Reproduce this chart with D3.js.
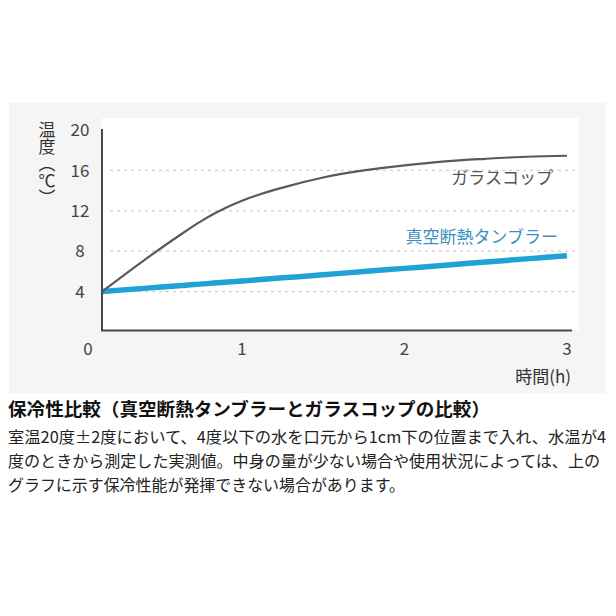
<!DOCTYPE html>
<html><head><meta charset="utf-8">
<script src="https://cdn.jsdelivr.net/npm/d3@7"></script>
<style>
html,body{margin:0;padding:0;background:#fff;}
svg{display:block;font-family:"Noto Sans CJK JP","Noto Sans",sans-serif;}
</style></head>
<body>
<script>
// ---- data ----
const hours    = [0, 0.3, 0.6, 0.7, 0.8, 0.9, 1, 1.25, 1.5, 1.75, 2, 2.25, 2.5, 2.75, 3];
const glassCup = [4, 7.1, 10.0, 10.9, 11.7, 12.4, 13.0, 14.3, 15.3, 16.0, 16.5, 16.9, 17.15, 17.35, 17.45];
const tumbler  = [4, 4.32, 4.63, 4.74, 4.84, 4.95, 5.05, 5.36, 5.67, 5.99, 6.3, 6.61, 6.93, 7.24, 7.55];
const yTicks = [4, 8, 12, 16, 20];
const xTicks = [1, 2, 3];
const seriesNames = ["ガラスコップ", "真空断熱タンブラー"];
const yTitle = "温度（℃）";
const xTitle = "時間(h)";
const caption = "保冷性比較（真空断熱タンブラーとガラスコップの比較）";
const notes = [
  "室温20度±2度において、4度以下の水を口元から1cm下の位置まで入れ、水温が4",
  "度のときから測定した実測値。中身の量が少ない場合や使用状況によっては、上の",
  "グラフに示す保冷性能が発揮できない場合があります。"
];

const W = 616, H = 616;
const svg = d3.select("body").append("svg").attr("width", W).attr("height", H);

// panel
svg.append("rect").attr("x", 9).attr("y", 103).attr("width", 597).attr("height", 290).attr("fill", "#f5f5f5");
svg.append("rect").attr("x", 102).attr("y", 118).attr("width", 477).attr("height", 212).attr("fill", "#ffffff");

const x = d3.scaleLinear().domain([0, 1, 3]).range([102, 242, 567]);
const y = d3.scaleLinear().domain([0, 20]).range([332, 130]);

// grid
svg.append("g").selectAll("line").data(yTicks.filter(d => d < 20)).join("line")
  .attr("x1", 110).attr("x2", 575)
  .attr("y1", d => y(d)).attr("y2", d => y(d))
  .attr("stroke", "#cfcfcf").attr("stroke-width", 1.2).attr("stroke-dasharray", "3,4");

// y tick labels
svg.append("g").selectAll("text").data(yTicks).join("text")
  .attr("x", 80).attr("y", d => y(d)).attr("dy", "0.36em")
  .attr("text-anchor", "middle").attr("font-size", 17).attr("fill", "#444")
  .text(d => d);
// zero label
svg.append("text").attr("x", 88).attr("y", 349).attr("dy", "0.36em")
  .attr("text-anchor", "middle").attr("font-size", 17).attr("fill", "#444").text("0");
// x tick labels
svg.append("g").selectAll("text").data(xTicks).join("text")
  .attr("x", d => x(d)).attr("y", 349).attr("dy", "0.36em")
  .attr("text-anchor", "middle").attr("font-size", 17).attr("fill", "#444")
  .text(d => d);

// lines
const line = d3.line().x((d, i) => x(hours[i])).y(d => y(d)).curve(d3.curveMonotoneX);
svg.append("path").datum(tumbler).attr("d", line).attr("fill", "none")
  .attr("stroke", "#1fa3d6").attr("stroke-width", 5.5);
svg.append("path").datum(glassCup).attr("d", line).attr("fill", "none")
  .attr("stroke", "#5a5a5a").attr("stroke-width", 2.2);

// axes lines
svg.append("path").attr("d", `M${x(0)},129V${y(0) - 1.5}H${572}`)
  .attr("fill", "none").attr("stroke", "#4a4a4a").attr("stroke-width", 2);

// series labels
svg.append("text").attr("x", 553).attr("y", 178).attr("dy", "0.36em")
  .attr("text-anchor", "end").attr("font-size", 17).attr("fill", "#555").text(seriesNames[0]);
svg.append("text").attr("x", 558).attr("y", 237).attr("dy", "0.36em")
  .attr("text-anchor", "end").attr("font-size", 17).attr("fill", "#3d8fbf").text(seriesNames[1]);

// y title vertical
svg.append("text").attr("x", 47).attr("y", 121)
  .style("writing-mode", "vertical-rl").attr("font-size", 17).attr("fill", "#333")
  .text(yTitle);
// x title
svg.append("text").attr("x", 571).attr("y", 377).attr("dy", "0.36em")
  .attr("text-anchor", "end").attr("font-size", 17).attr("fill", "#333").text(xTitle);

// caption
svg.append("text").attr("x", 8).attr("y", 410).attr("dy", "0.36em")
  .attr("font-size", 18).attr("font-weight", "bold").attr("fill", "#111")
  .attr("textLength", 482).attr("lengthAdjust", "spacingAndGlyphs").text(caption);
const noteW = [598, 592, 397];
svg.append("g").selectAll("text").data(notes).join("text")
  .attr("x", 8).attr("y", (d, i) => 437 + i * 24).attr("dy", "0.36em")
  .attr("font-size", 16).attr("fill", "#222")
  .attr("textLength", (d, i) => noteW[i]).attr("lengthAdjust", "spacingAndGlyphs")
  .text(d => d);
</script>
</body></html>
